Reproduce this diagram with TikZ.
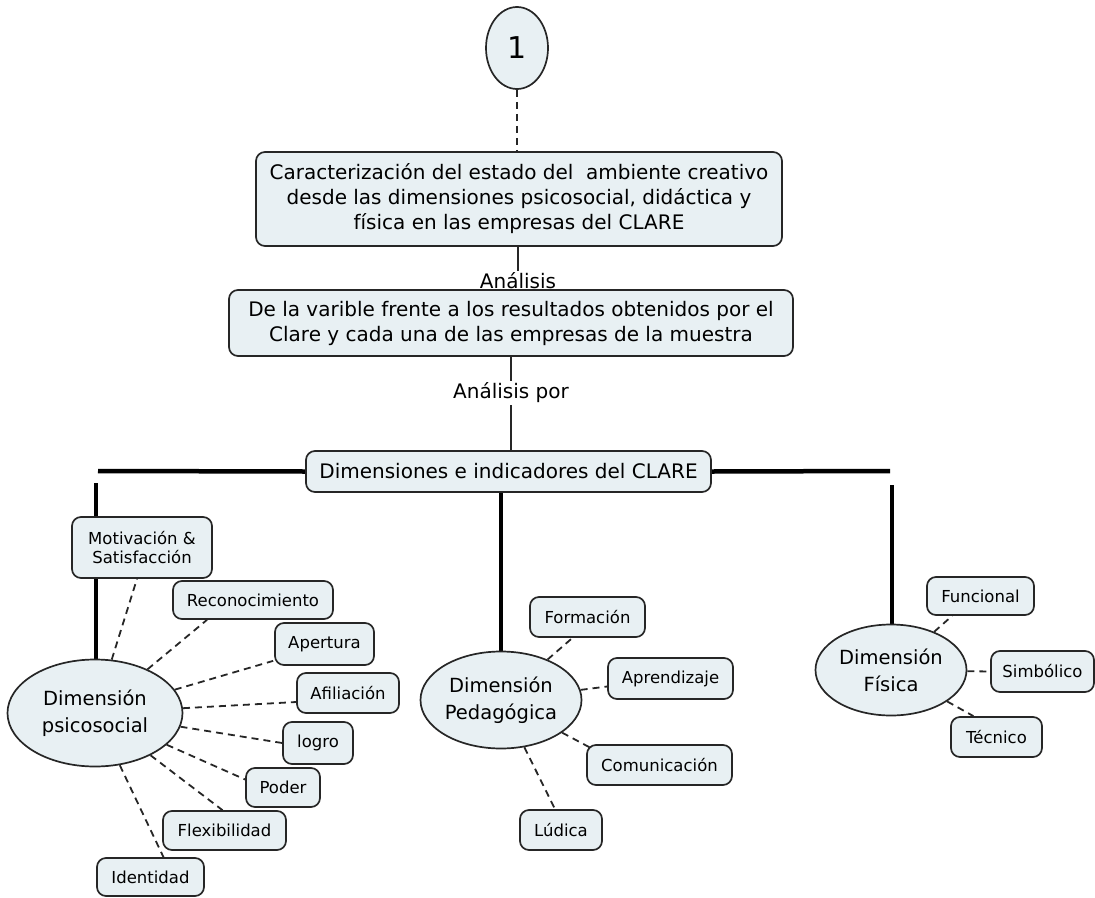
\documentclass[tikz,border=0pt]{standalone}
\usepackage{fontspec}
\setmainfont{DejaVu Sans}
\usetikzlibrary{shapes.geometric,backgrounds}
\definecolor{boxfill}{HTML}{E8F0F3}
\definecolor{edge}{HTML}{262626}
\begin{document}
\begin{tikzpicture}[x=1pt,y=-1pt,
  box/.style={draw=edge, fill=boxfill, line width=1.7pt, rounded corners=9pt, align=center, inner sep=0pt},
  bigbox/.style={box, font=\fontsize{20}{25}\selectfont},
  smallbox/.style={box, font=\fontsize{16.5}{19.5}\selectfont},
  ell/.style={draw=edge, fill=boxfill, line width=1.7pt, ellipse, align=center, inner sep=0pt, font=\fontsize{19.5}{27}\selectfont},
  lbl/.style={inner sep=2pt, font=\fontsize{20}{22}\selectfont},
  dline/.style={draw=edge, line width=1.8pt, dash pattern=on 7pt off 5pt},
  thinl/.style={draw=edge, line width=1.4pt},
  heavy/.style={draw=black, line width=4.5pt}
]
\useasboundingbox (0,0) rectangle (1095,897);

% top
\node[ell, minimum width=62pt, minimum height=82pt, font=\fontsize{30}{34}\selectfont] (one) at (517,48) {1};
\node[bigbox, minimum width=526pt, minimum height=94pt] (b1) at (519,199)
  {Caracterización del estado del\ \ ambiente creativo\\desde las dimensiones psicosocial, didáctica y\\física en las empresas del CLARE};
\node[lbl] (an1) at (518,281) {Análisis};
\node[bigbox, minimum width=564pt, minimum height=66pt] (b2) at (511,323)
  {De la varible frente a los resultados obtenidos por el\\Clare y cada una de las empresas de la muestra};
\node[lbl] (an2) at (511,393) {Análisis por};
\node[bigbox, minimum width=405pt, minimum height=41pt] (b3) at (508.5,471.5)
  {Dimensiones e indicadores del CLARE};

\coordinate (hl) at (98,471);
\coordinate (hr) at (890,471);
\coordinate (vl) at (96,483);
\coordinate (vr) at (892,485);

% ellipses
\node[ell, minimum width=175pt, minimum height=107pt] (psi) at (95,713) {Dimensión\\psicosocial};
\node[ell, minimum width=161pt, minimum height=97pt] (ped) at (501,700) {Dimensión\\Pedagógica};
\node[ell, minimum width=151pt, minimum height=91pt] (fis) at (891,670) {Dimensión\\Física};

% psicosocial leaves
\node[smallbox, minimum width=140pt, minimum height=61pt] (mot) at (142,547.5) {Motivación \&\\Satisfacción};
\node[smallbox, minimum width=160pt, minimum height=38pt] (rec) at (253,600) {Reconocimiento};
\node[smallbox, minimum width=99pt, minimum height=42pt] (ape) at (324.5,644) {Apertura};
\node[smallbox, minimum width=102pt, minimum height=40pt] (afi) at (348,693) {Afiliación};
\node[smallbox, minimum width=70pt, minimum height=42pt] (log) at (318,743) {logro};
\node[smallbox, minimum width=74pt, minimum height=39pt] (pod) at (283,787.5) {Poder};
\node[smallbox, minimum width=123pt, minimum height=39pt] (fle) at (224.5,830.5) {Flexibilidad};
\node[smallbox, minimum width=107pt, minimum height=38pt] (ide) at (150.5,877) {Identidad};

% pedagogica leaves
\node[smallbox, minimum width=115pt, minimum height=40pt] (for) at (587.5,617) {Formación};
\node[smallbox, minimum width=125pt, minimum height=41pt] (apr) at (670.5,678.5) {Aprendizaje};
\node[smallbox, minimum width=145pt, minimum height=40pt] (com) at (659.5,765) {Comunicación};
\node[smallbox, minimum width=82pt, minimum height=40pt] (lud) at (561,830) {Lúdica};

% fisica leaves
\node[smallbox, minimum width=107pt, minimum height=38pt] (fun) at (980.5,596) {Funcional};
\node[smallbox, minimum width=103pt, minimum height=41pt] (sim) at (1042.5,671.5) {Simbólico};
\node[smallbox, minimum width=91pt, minimum height=40pt] (tec) at (996.5,737) {Técnico};

\begin{pgfonlayer}{background}
  \draw[dline] (one.south) -- (one.south |- b1.north);
  \draw[thinl] (an1.north |- b1.south) -- (an1.north);
  \draw[thinl] (an1.south) -- (an1.south |- b2.north);
  \draw[thinl] (an2.north |- b2.south) -- (an2.north);
  \draw[thinl] (an2.south) -- (an2.south |- b3.north);

  \draw[heavy] (hl) -- (b3.west);
  \draw[heavy] (b3.east) -- (hr);
  \draw[heavy] (vl) -- (vl |- psi.north);
  \draw[heavy] (b3.south -| ped.north) -- (ped.north);
  \draw[heavy] (vr) -- (vr |- fis.north);

  \draw[dline] (psi) -- ([xshift=-5pt]mot.south);
  \draw[dline] (psi) -- ([xshift=-46pt]rec.south);
  \draw[dline] (psi) -- ([xshift=-1pt,yshift=5pt]ape.south west);
  \draw[dline] (psi) -- ([yshift=-9pt]afi.west);
  \draw[dline] (psi) -- (log.west);
  \draw[dline] (psi) -- ([yshift=8pt]pod.west);
  \draw[dline] (psi) -- ([xshift=-2pt]fle.north);
  \draw[dline] (psi) -- ([xshift=13pt]ide.north);

  \draw[dline] (ped) -- ([xshift=-15pt]for.south);
  \draw[dline] (ped) -- ([yshift=-8pt]apr.west);
  \draw[dline] (ped) -- ([xshift=5pt,yshift=-4pt]com.north west);
  \draw[dline] (ped) -- ([xshift=-6pt]lud.north);

  \draw[dline] (fis) -- ([xshift=26pt]fun.south west);
  \draw[dline] (fis) -- (sim.west);
  \draw[dline] (fis) -- ([xshift=-23pt]tec.north);
\end{pgfonlayer}
\end{tikzpicture}
\end{document}
